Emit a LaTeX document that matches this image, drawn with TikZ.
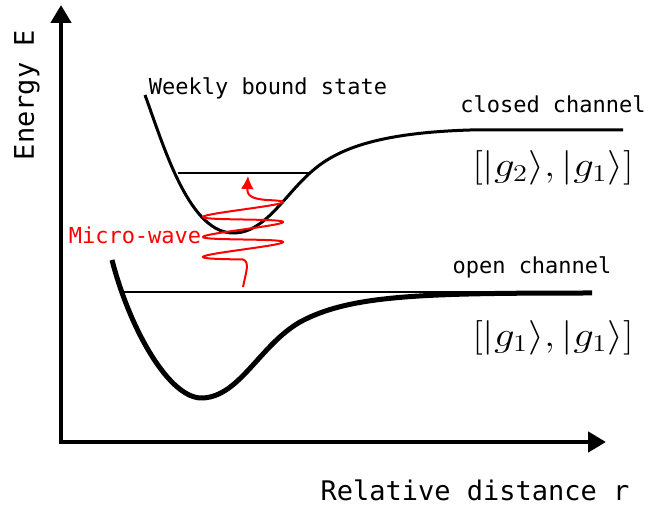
\documentclass[tikz,border=0pt]{standalone}
\usepackage{amsmath, amssymb}
\usepackage{fontspec}
\newfontfamily\gothic{DejaVu Sans Mono}
\usetikzlibrary{arrows.meta}

\begin{document}
\begin{tikzpicture}[
    x=0.5pt, y=-0.5pt,
    axis/.style={line width=2.2pt, line join=miter, {Triangle[length=9pt,width=10pt]}-{Triangle[length=9pt,width=10pt]}},
    pot/.style={line width=1.5pt},
    level/.style={line width=1.1pt},
    wave/.style={red, line width=1pt},
    lbl/.style={font=\gothic\fontsize{11}{13}\selectfont},
    axlbl/.style={font=\gothic\fontsize{13.5}{16}\selectfont},
    ket/.style={font=\LARGE, xscale=1.18}
]
\useasboundingbox (0,0) rectangle (653,507);

% Axes
\coordinate (origin) at (61,442);
\coordinate (ytop) at (61,5);
\coordinate (xend) at (606,442);
\draw[axis] (ytop) -- (origin) -- (xend);
\node[axlbl, rotate=90] (energy) at (27,95) {Energy E};
\node[axlbl] (dist) at (475,490) {Relative distance r};

% Closed channel
\draw[pot] (145,95) .. controls (165,150) and (190,235) .. (235,233)
  .. controls (265,232) and (285,195) .. (310,173)
  .. controls (335,150) and (375,133) .. (470,130) -- (623,130);
\draw[level] (178,173) -- (310,173);
\node[lbl] (bound) at (268,88) {Weekly bound state};
\node[lbl] (closed) at (553,104) {closed channel};
\node[ket] (gtwo) at (553,168) {$[|g_2\rangle,|g_1\rangle]$};

% Open channel
\draw[pot, line width=2.5pt] (112,260) .. controls (130,330) and (170,400) .. (203,398)
  .. controls (240,396) and (260,345) .. (300,322)
  .. controls (350,295) and (420,293) .. (592,293);
\draw[level] (123,292) -- (592,292);
\node[lbl] (open) at (532,267) {open channel};
\node[ket] (gone) at (553,338) {$[|g_1\rangle,|g_1\rangle]$};

% Micro-wave
\draw[wave, -{Latex[length=6.5pt,width=6.5pt]}] (243,287) .. controls (246,272) and (250,262) .. (243,259.5)
  -- plot[domain=180:1220, samples=200, variable=\t] ({243+40*sin(\t)}, {269.5-\t/18-2.5*sin(\t)})
  .. controls (250,199) and (247,195) .. (248,176);
\node[lbl, text=red] (mw) at (135,235) {Micro-wave};

\end{tikzpicture}
\end{document}
